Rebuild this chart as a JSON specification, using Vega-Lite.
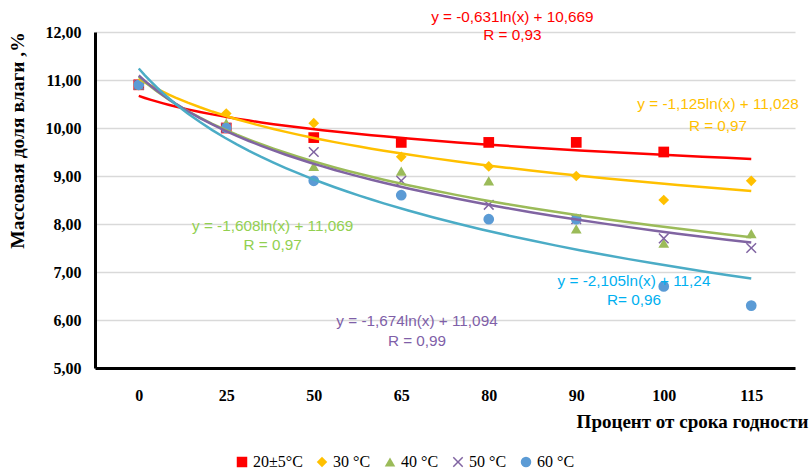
{
  "$schema": "https://vega.github.io/schema/vega-lite/v6.json",
  "autosize": {"type": "none"},
  "padding": {"left": 95, "top": 32, "right": 15, "bottom": 104},
  "width": 700,
  "height": 336,
  "background": "white",
  "config": {"view": {"stroke": null}},
  "datasets": {
    "pts": [
      {"series": "20±5°C", "idx": 1, "value": 10.9},
      {"series": "20±5°C", "idx": 2, "value": 10.0},
      {"series": "20±5°C", "idx": 3, "value": 9.8},
      {"series": "20±5°C", "idx": 4, "value": 9.7},
      {"series": "20±5°C", "idx": 5, "value": 9.7},
      {"series": "20±5°C", "idx": 6, "value": 9.7},
      {"series": "20±5°C", "idx": 7, "value": 9.5},
      {"series": "30 °C", "idx": 1, "value": 10.9},
      {"series": "30 °C", "idx": 2, "value": 10.3},
      {"series": "30 °C", "idx": 3, "value": 10.1},
      {"series": "30 °C", "idx": 4, "value": 9.4},
      {"series": "30 °C", "idx": 5, "value": 9.2},
      {"series": "30 °C", "idx": 6, "value": 9.0},
      {"series": "30 °C", "idx": 7, "value": 8.5},
      {"series": "30 °C", "idx": 8, "value": 8.9},
      {"series": "40 °C", "idx": 1, "value": 10.9},
      {"series": "40 °C", "idx": 2, "value": 10.1},
      {"series": "40 °C", "idx": 3, "value": 9.2},
      {"series": "40 °C", "idx": 4, "value": 9.1},
      {"series": "40 °C", "idx": 5, "value": 8.9},
      {"series": "40 °C", "idx": 6, "value": 7.9},
      {"series": "40 °C", "idx": 7, "value": 7.6},
      {"series": "40 °C", "idx": 8, "value": 7.8},
      {"series": "50 °C", "idx": 1, "value": 10.9},
      {"series": "50 °C", "idx": 2, "value": 10.0},
      {"series": "50 °C", "idx": 3, "value": 9.5},
      {"series": "50 °C", "idx": 4, "value": 8.9},
      {"series": "50 °C", "idx": 5, "value": 8.4},
      {"series": "50 °C", "idx": 6, "value": 8.1},
      {"series": "50 °C", "idx": 7, "value": 7.7},
      {"series": "50 °C", "idx": 8, "value": 7.5},
      {"series": "60 °C", "idx": 1, "value": 10.9},
      {"series": "60 °C", "idx": 2, "value": 10.0},
      {"series": "60 °C", "idx": 3, "value": 8.9},
      {"series": "60 °C", "idx": 4, "value": 8.6},
      {"series": "60 °C", "idx": 5, "value": 8.1},
      {"series": "60 °C", "idx": 6, "value": 8.1},
      {"series": "60 °C", "idx": 7, "value": 6.7},
      {"series": "60 °C", "idx": 8, "value": 6.3}
    ],
    "notes": [
      {"series": "20±5°C", "x": 5.27, "y": 12.31, "text": "y = -0,631ln(x) + 10,669"},
      {"series": "20±5°C", "x": 5.27, "y": 11.94, "text": "R = 0,93"},
      {"series": "30 °C", "x": 7.62, "y": 10.5, "text": "y = -1,125ln(x) + 11,028"},
      {"series": "30 °C", "x": 7.62, "y": 10.04, "text": "R = 0,97"},
      {"series": "40 °C", "x": 2.53, "y": 7.96, "text": "y = -1,608ln(x) + 11,069"},
      {"series": "40 °C", "x": 2.53, "y": 7.56, "text": "R = 0,97"},
      {"series": "60 °C", "x": 6.66, "y": 6.81, "text": "y = -2,105ln(x) + 11,24"},
      {"series": "60 °C", "x": 6.66, "y": 6.42, "text": "R= 0,96"},
      {"series": "50 °C", "x": 4.18, "y": 5.98, "text": "y = -1,674ln(x) + 11,094"},
      {"series": "50 °C", "x": 4.18, "y": 5.56, "text": "R = 0,99"}
    ]
  },
  "layer": [
    {
      "data": {"name": "pts"},
      "mark": {"type": "point", "filled": true, "opacity": 1, "size": 115},
      "encoding": {
        "x": {
          "field": "idx", "type": "quantitative",
          "scale": {"domain": [0.5, 8.5], "nice": false, "zero": false},
          "axis": {
            "values": [1, 2, 3, 4, 5, 6, 7, 8],
            "labelExpr": "['0','25','50','65','80','90','100','115'][datum.value - 1]",
            "grid": false, "ticks": false,
            "domainColor": "black", "domainWidth": 3,
            "labelFont": "Liberation Serif", "labelFontWeight": "bold", "labelFontSize": 16,
            "labelColor": "black", "labelPadding": 19,
            "title": "Процент от срока годности",
            "titleFont": "Liberation Serif", "titleFontWeight": "bold", "titleFontSize": 19,
            "titleColor": "black", "titleAnchor": null,
            "titleX": 713, "titleY": 53, "titleAlign": "right", "titleBaseline": "middle"
          }
        },
        "y": {
          "field": "value", "type": "quantitative",
          "scale": {"domain": [5, 12], "nice": false, "zero": false},
          "axis": {
            "values": [5, 6, 7, 8, 9, 10, 11, 12],
            "labelExpr": "replace(format(datum.value, '.2f'), '.', ',')",
            "grid": true, "gridColor": "#d9d9d9", "gridWidth": 1.5,
            "ticks": false,
            "domainColor": "black", "domainWidth": 3,
            "labelFont": "Liberation Serif", "labelFontWeight": "bold", "labelFontSize": 16,
            "labelColor": "black", "labelPadding": 14,
            "title": "Массовая доля влаги ,%",
            "titleFont": "Liberation Serif", "titleFontWeight": "bold", "titleFontSize": 19.5,
            "titleColor": "black", "titleAngle": -90,
            "titleX": -78, "titleY": 108, "titleAlign": "center", "titleBaseline": "middle"
          }
        },
        "color": {
          "field": "series", "type": "nominal",
          "scale": {
            "domain": ["20±5°C", "30 °C", "40 °C", "50 °C", "60 °C"],
            "range": ["#ff0000", "#ffc000", "#9bbb59", "#8064a2", "#5b9bd5"]
          },
          "legend": {
            "orient": "none", "direction": "horizontal",
            "legendX": 139, "legendY": 422,
            "title": null,
            "labelFont": "Liberation Serif", "labelFontSize": 16, "labelColor": "black",
            "symbolSize": 110, "labelOffset": 3, "columnPadding": 11, "symbolStrokeWidth": 0
          }
        },
        "shape": {
          "field": "series", "type": "nominal",
          "scale": {
            "domain": ["20±5°C", "30 °C", "40 °C", "50 °C", "60 °C"],
            "range": ["square", "diamond", "triangle-up", "M-0.8,-1L0,-0.2L0.8,-1L1,-0.8L0.2,0L1,0.8L0.8,1L0,0.2L-0.8,1L-1,0.8L-0.2,0L-1,-0.8Z", "circle"]
          },
          "legend": {
            "orient": "none", "direction": "horizontal",
            "legendX": 139, "legendY": 422,
            "title": null,
            "labelFont": "Liberation Serif", "labelFontSize": 16, "labelColor": "black",
            "symbolSize": 110, "labelOffset": 3, "columnPadding": 11, "symbolStrokeWidth": 0
          }
        }
      }
    },
    {
      "data": {"name": "pts"},
      "transform": [
        {"regression": "value", "on": "idx", "groupby": ["series"], "method": "log", "extent": [1, 8]}
      ],
      "mark": {"type": "line", "strokeWidth": 2.5},
      "encoding": {
        "x": {"field": "idx", "type": "quantitative"},
        "y": {"field": "value", "type": "quantitative"},
        "detail": {"field": "series"},
        "stroke": {
          "field": "series", "type": "nominal",
          "scale": {
            "domain": ["20±5°C", "30 °C", "40 °C", "50 °C", "60 °C"],
            "range": ["#ff0000", "#ffc000", "#9bbb59", "#8064a2", "#4bacc6"]
          },
          "legend": null
        }
      }
    },
    {
      "data": {"name": "notes"},
      "mark": {"type": "text", "font": "Liberation Sans", "fontSize": 15.3, "align": "center", "baseline": "middle"},
      "encoding": {
        "x": {"field": "x", "type": "quantitative"},
        "y": {"field": "y", "type": "quantitative"},
        "text": {"field": "text"},
        "fill": {
          "field": "series", "type": "nominal",
          "scale": {
            "domain": ["20±5°C", "30 °C", "40 °C", "50 °C", "60 °C"],
            "range": ["#ff0000", "#ffc000", "#92d050", "#7f5fa8", "#00b0f0"]
          },
          "legend": null
        }
      }
    }
  ]
}
